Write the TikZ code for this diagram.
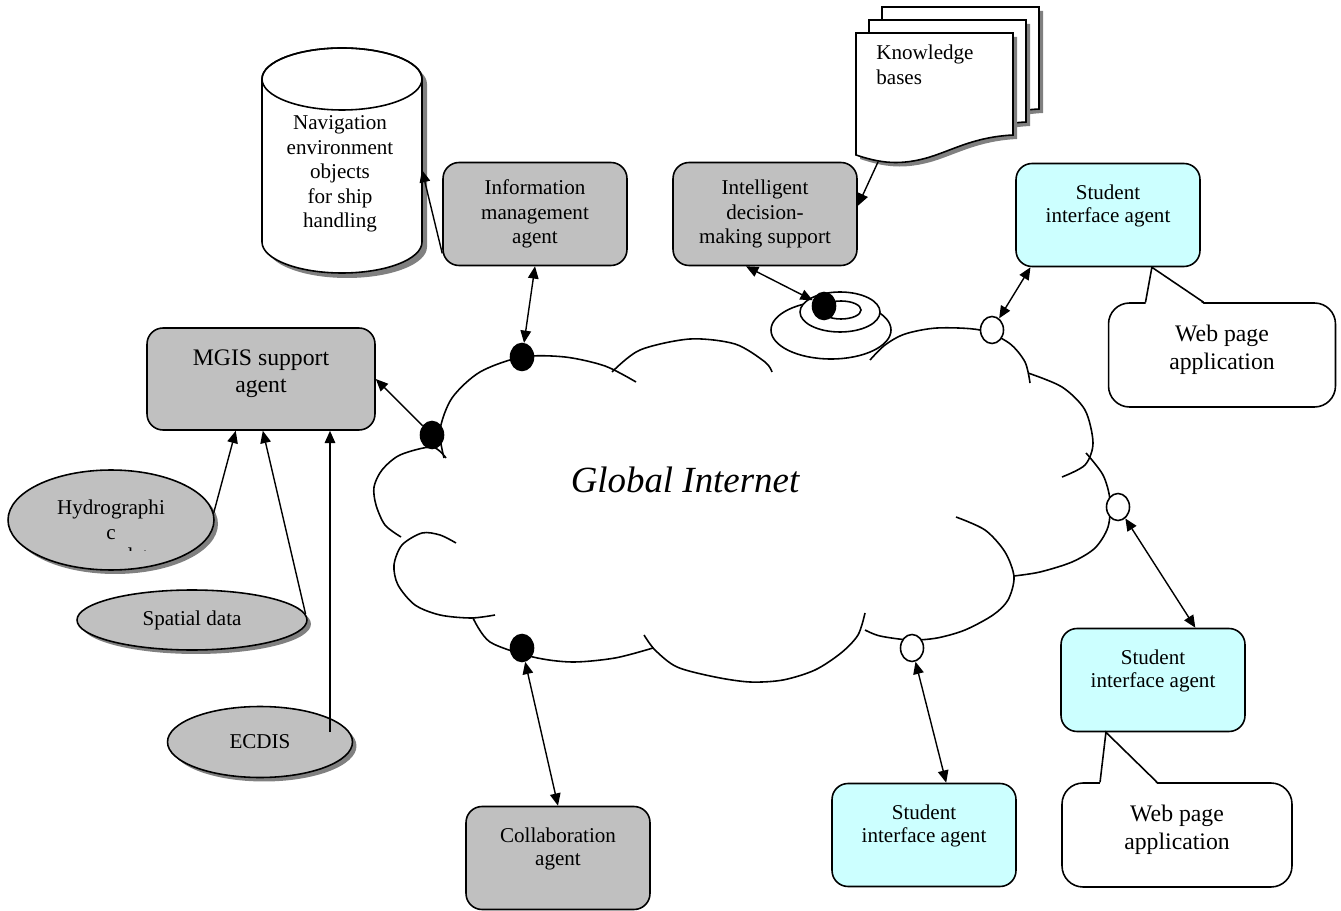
\documentclass[tikz,border=0pt]{standalone}
\usepackage{fontspec}
\setmainfont{Liberation Serif}
\usepackage{tikz}
\usetikzlibrary{shapes.geometric,shadows,arrows.meta,positioning}
\usepackage{xcolor}
\definecolor{boxgray}{HTML}{C0C0C0}
\definecolor{studcyan}{HTML}{CCFFFF}
\definecolor{shadowgray}{HTML}{808080}

\begin{document}
\begin{tikzpicture}[
    x=0.02cm, y=-0.02cm,
    every node/.style={font=\fontsize{12}{14}\selectfont},
    outline/.style={line width=0.9pt},
    agent/.style={draw, outline, rounded corners=0.32cm, fill=boxgray, align=center, minimum width=3.68cm, minimum height=2.06cm, inner sep=2pt},
    student/.style={agent, fill=studcyan, font=\fontsize{12}{13}\selectfont},
    source/.style={draw, outline, ellipse, fill=boxgray, align=center, inner sep=0pt, drop shadow={shadow xshift=0.08cm, shadow yshift=-0.08cm, opacity=1, fill=shadowgray}},
    port/.style={draw, outline, ellipse, inner sep=0pt, minimum width=0.46cm, minimum height=0.54cm, fill=white},
    hub/.style={port, fill=black},
    webnote/.style={draw, outline, rounded corners=0.42cm, fill=white, align=center, minimum width=4.54cm, minimum height=2.08cm, font=\fontsize{13.5}{16}\selectfont},
    link/.style={line width=0.8pt, -{Triangle[length=7pt,width=6pt]}},
    both/.style={line width=0.8pt, {Triangle[length=7pt,width=6pt]}-{Triangle[length=7pt,width=6pt]}}
]
\useasboundingbox (0,0) rectangle (1341,911);

\draw[outline] plot[smooth] coordinates {(444,458) (440,430) (452,398) (480,372) (522,357) (565,357) (605,366) (636,382)};
\draw[outline] plot[smooth] coordinates {(612,372) (640,350) (690,339) (735,344) (765,362) (772,372)};
\draw[outline] plot[smooth] coordinates {(870,360) (885,345) (905,334) (937,328) (980,330) (1009,343) (1025,362) (1030,383)};
\draw[outline] plot[smooth] coordinates {(1028,373) (1062,387) (1085,410) (1093,443) (1085,465) (1062,477)};
\draw[outline] plot[smooth] coordinates {(1086,453) (1103,475) (1110,500) (1108,527) (1095,548) (1072,562) (1040,572) (1014,576)};
\draw[outline] plot[smooth] coordinates {(956,517) (985,530) (1005,552) (1014,577) (1008,600) (993,615) (965,630) (937,638) (910,640) (880,636) (865,630)};
\draw[outline] plot[smooth] coordinates {(865,613) (858,635) (841,653) (815,670) (783,680) (750,682) (715,677) (677,667) (655,650) (644,635)};
\draw[outline] plot[smooth] coordinates {(653,648) (615,658) (572,662) (533,657) (490,642) (473,618)};
\draw[outline] plot[smooth] coordinates {(495,615) (471,618) (440,615) (415,605) (398,585) (394,565) (402,545) (422,533) (440,535) (456,543)};
\draw[outline] plot[smooth] coordinates {(401,537) (385,525) (376,505) (374,487) (382,470) (400,455) (432,447) (446,458)};

\draw[outline, fill=white] (831,330) ellipse [x radius=60, y radius=29];
\draw[outline, fill=white] (840,312) ellipse [x radius=40, y radius=20];
\draw[outline] (841,310) ellipse [x radius=20, y radius=9];

\node[font=\fontsize{21}{25}\selectfont\itshape] (net) at (685,480) {Global Internet};

\node[hub] (dotA) at (432,435) {};
\node[hub] (dotB) at (522,357) {};
\node[hub] (dotC) at (522,648) {};
\node[hub] (dotD) at (824,306) {};
\node[port] (dotE) at (992,330) {};
\node[port] (dotF) at (1118,507) {};
\node[port] (dotG) at (912,648) {};

\node[agent] (info) at (535,214) {Information\\management\\agent};
\node[agent] (idm) at (765,214) {Intelligent\\decision-\\making support};
\node[agent, minimum width=4.56cm, minimum height=2.04cm, font=\fontsize{13.5}{15.5}\selectfont] (mgis) at (261,379) {MGIS support\\agent\\[-7pt]\mbox{}};
\node[agent, font=\fontsize{12}{13}\selectfont] (collab) at (558,858) {Collaboration\\agent\\\mbox{}};
\node[student] (stud1) at (1108,215) {Student\\interface agent\\\mbox{}};
\node[student] (stud2) at (1153,680) {Student\\interface agent\\\mbox{}};
\node[student] (stud3) at (924,835) {Student\\interface agent\\\mbox{}};

\node[source, minimum width=4.12cm, minimum height=2.0cm] (hydro) at (111,520) {Hydrographi\\c};
\begin{scope}
\clip (90,540) rectangle (190,550);
\node[anchor=base] (hydrorest) at (140,562) {data};
\end{scope}
\node[source, minimum width=4.6cm, minimum height=1.2cm] (spatial) at (192,620) {Spatial data};
\node[source, minimum width=3.7cm, minimum height=1.42cm] (ecdis) at (260,742) {ECDIS};

\fill[shadowgray] (267,84) -- (267,247) arc[start angle=180, end angle=0, x radius=80, y radius=31] -- (427,84) arc[start angle=0, end angle=-180, x radius=80, y radius=31] -- cycle;
\draw[outline, fill=white] (262,79) -- (262,242) arc[start angle=180, end angle=0, x radius=80, y radius=31] -- (422,79) arc[start angle=0, end angle=-180, x radius=80, y radius=31] -- cycle;
\draw[outline] (342,79) ellipse [x radius=80, y radius=31];
\node[align=center] (navobj) at (340,174) {Navigation\\environment\\objects\\for ship\\handling};
\coordinate (navside) at (422,170);

\foreach \d in {26,13,0} {
  \begin{scope}[shift={(\d,-\d)}]
    \fill[shadowgray, shift={(4,4)}] (856,33) -- (1013,33) -- (1013,135) .. controls (975,137) and (955,149) .. (930,157) .. controls (900,166) and (880,163) .. (856,155) -- cycle;
    \draw[outline, fill=white] (856,33) -- (1013,33) -- (1013,135) .. controls (975,137) and (955,149) .. (930,157) .. controls (900,166) and (880,163) .. (856,155) -- cycle;
  \end{scope}
}
\node[anchor=north west, align=left, inner sep=0pt] (kbtext) at (876,45) {Knowledge\\bases};
\coordinate (kbfoot) at (878,162);

\node[webnote] (web1) at (1222,355) {Web page\\application\\[-7pt]\mbox{}};
\fill[white] ([xshift=-1.53cm, yshift=-1pt]web1.north) -- (stud1.-50) -- ([xshift=-0.37cm, yshift=-1pt]web1.north) -- cycle;
\draw[outline] ([xshift=-1.53cm]web1.north) -- (stud1.-50) -- ([xshift=-0.37cm]web1.north);

\node[webnote, minimum width=4.6cm] (web2) at (1177,835) {Web page\\application\\[-7pt]\mbox{}};
\fill[white] ([xshift=-1.54cm, yshift=-1pt]web2.north) -- (stud2.-132) -- ([xshift=-0.4cm, yshift=-1pt]web2.north) -- cycle;
\draw[outline] ([xshift=-1.54cm]web2.north) -- (stud2.-132) -- ([xshift=-0.4cm]web2.north);

\draw[link] (dotA) -- (mgis.east);
\draw[both] (dotB) -- (info.south);
\draw[both] (dotD) -- (idm.-110);
\draw[link] (kbfoot) -- (idm.5);
\draw[link] (info.-157) -- (navside);
\draw[both] (dotE) -- (stud1.-146);
\draw[both] (dotF) -- (stud2.51);
\draw[both] (dotG) -- (stud3.67);
\draw[both] (dotC) -- (collab.north);
\draw[link] (hydro.4) -- (mgis.-116);
\draw[link] (spatial.3) -- (mgis.-88);
\coordinate (ecdfoot) at (330,732);
\draw[link] (ecdfoot) -- (ecdfoot |- mgis.south);
\end{tikzpicture}
\end{document}
